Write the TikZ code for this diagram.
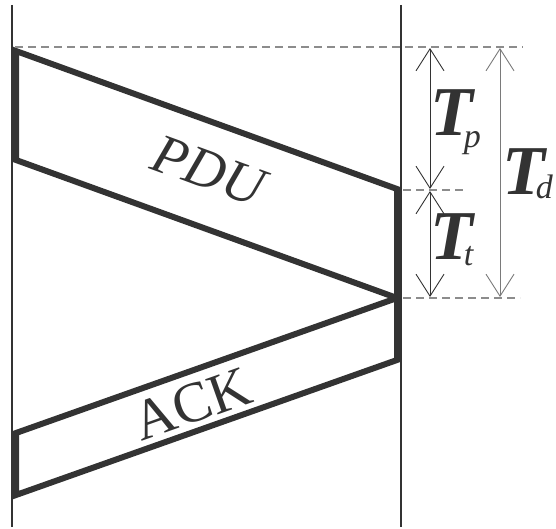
\documentclass[tikz,border=0pt]{standalone}
\usepackage{fontspec}
\setmainfont{Liberation Serif}
\usetikzlibrary{arrows.meta}
\definecolor{ink}{HTML}{333333}
\definecolor{dashgray}{HTML}{8C8C8C}
\definecolor{lightink}{HTML}{7A7A7A}
\newcommand\bigT{{\fontsize{70}{70}\selectfont\bfseries\itshape T}}
\newcommand\subs[2]{\raisebox{#1}{\fontsize{34}{34}\selectfont\mdseries\itshape #2}}
\begin{document}
\begin{tikzpicture}[x=1pt,y=-1pt,
  frame/.style={line width=6pt, draw=ink, line join=miter, miter limit=2},
  axis/.style={line width=2pt, draw=ink},
  dashline/.style={line width=1.2pt, draw=dashgray, dash pattern=on 8pt off 5pt},
  dim/.style={line width=0.9pt, draw=ink, {Straight Barb[length=22pt,width=28pt]}-{Straight Barb[length=22pt,width=28pt]}},
  lbl/.style={inner sep=0pt, text=ink, anchor=base west},
  msg/.style={inner sep=0pt, text=ink}]
\useasboundingbox (0,0) rectangle (556,529);
% vertical time axes
\coordinate (L1) at (12,5);
\coordinate (L2) at (12,527);
\coordinate (R1) at (401,5);
\coordinate (R2) at (401,527);
\draw[axis] (L1) -- (L2);
\draw[axis] (R1) -- (R2);
% PDU
\coordinate (pa) at (16,51);
\coordinate (pb) at (397,189);
\coordinate (pc) at (397,298);
\coordinate (pd) at (16,160);
\draw[frame] (pa) -- (pb) -- (pc) -- (pd) -- cycle;
% ACK
\coordinate (ae) at (397,360);
\coordinate (af) at (16,495);
\coordinate (ag) at (16,433);
\draw[frame] (pc) -- (ae) -- (af) -- (ag) -- cycle;
% dashed reference lines
\coordinate (d1a) at (15,47);
\coordinate (d1b) at (523,47);
\coordinate (d2a) at (403,190);
\coordinate (d2b) at (465,190);
\coordinate (d3a) at (403,298);
\coordinate (d3b) at (520,298);
\draw[dashline] (d1a) -- (d1b);
\draw[dashline] (d2a) -- (d2b);
\draw[dashline] (d3a) -- (d3b);
% dimension arrows
\coordinate (tp1) at (430,48);
\coordinate (tp2) at (430,189);
\coordinate (tt1) at (430,191);
\coordinate (tt2) at (430,297);
\coordinate (td1) at (500,48);
\coordinate (td2) at (500,297);
\draw[dim] (tp1) -- (tp2);
\draw[dim] (tt1) -- (tt2);
\draw[dim, draw=lightink] (td1) -- (td2);
% labels
\node[lbl] (Tp) at (430,136) {\bigT\kern-9pt\subs{-12pt}{p}};
\node[lbl] (Tt) at (430,259) {\bigT\kern-9pt\subs{-6pt}{t}};
\node[lbl] (Td) at (502,195) {\bigT\kern-9pt\subs{-4pt}{d}};
\node[msg, rotate=-20] (pdu) at (209,171) {\fontsize{56}{56}\selectfont\itshape PDU};
\node[msg, rotate=19.5] (ack) at (192,404) {\fontsize{57}{57}\selectfont ACK};
\end{tikzpicture}
\end{document}
